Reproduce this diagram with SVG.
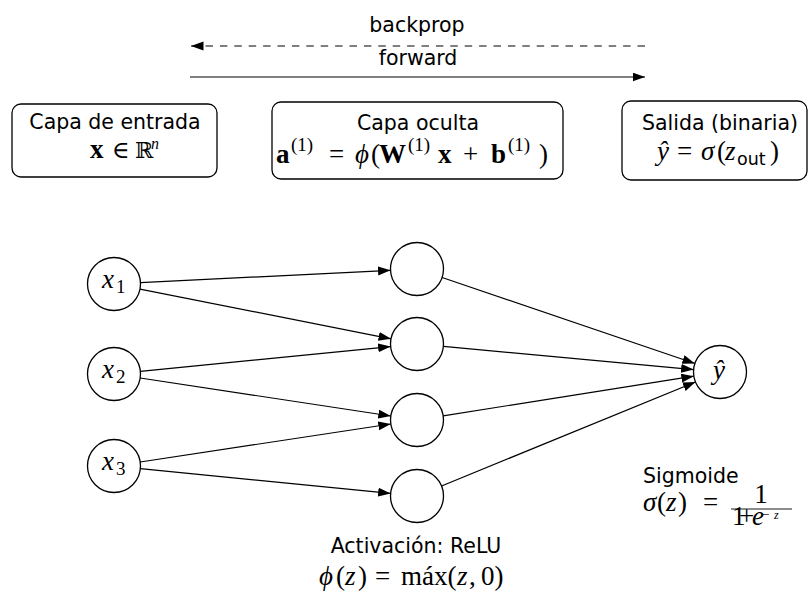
<svg xmlns="http://www.w3.org/2000/svg" width="810" height="592" viewBox="0 0 810 592">
  <style>
    .sans { font-family: "DejaVu Sans", "Liberation Sans", sans-serif; font-size: 20.5px; fill: #000; }
    .math { font-family: "Liberation Serif", "DejaVu Serif", serif; font-size: 27px; fill: #000; }
    .it { font-style: italic; }
    .bf { font-weight: bold; }
    .sup { font-size: 19px; }
    .box { fill: #fff; stroke: #000; stroke-width: 1.3; }
    .neuron { fill: #fff; stroke: #000; stroke-width: 1.3; }
    .edge { fill: none; stroke: #000; stroke-width: 1.2; marker-end: url(#tip); }
  </style>
  <defs>
    <marker id="tip" markerUnits="userSpaceOnUse" markerWidth="14" markerHeight="10" refX="12.5" refY="4.5" orient="auto">
      <path d="M0,0 L12.5,4.5 L0,9 Z" fill="#000" stroke="none"/>
    </marker>
  </defs>
  <rect width="810" height="592" fill="#fff"/>

  <!-- direction of the passes -->
  <g id="passes">
    <path class="edge" d="M645,46 L191,46" stroke-dasharray="7.5 6.9"/>
    <text class="sans" x="417" y="32" text-anchor="middle">backprop</text>
    <path class="edge" d="M190,77 L645,77"/>
    <text class="sans" x="418" y="65" text-anchor="middle">forward</text>
  </g>

  <!-- layer descriptions -->
  <g id="box-input">
    <rect class="box" x="12" y="104" width="205" height="73" rx="9"/>
    <text class="sans" x="115" y="129" text-anchor="middle">Capa de entrada</text>
    <text class="math" y="158"><tspan class="bf" x="90">x</tspan><tspan x="112" font-size="24">∈</tspan><tspan x="135" font-family="DejaVu Serif, serif" font-size="22">ℝ</tspan><tspan class="it" font-size="16" x="151" y="149">n</tspan></text>
  </g>
  <g id="box-hidden">
    <rect class="box" x="272" y="102" width="291" height="77" rx="9"/>
    <text class="sans" x="418" y="130" text-anchor="middle">Capa oculta</text>
    <text class="math" y="163"><tspan class="bf" x="276">a</tspan><tspan class="sup" x="291" y="151">(1)</tspan><tspan x="329" y="163">=</tspan><tspan class="it" x="355">ϕ</tspan><tspan x="371">(</tspan><tspan class="bf" x="379">W</tspan><tspan class="sup" x="408" y="151">(1)</tspan><tspan class="bf" x="438" y="163">x</tspan><tspan x="463">+</tspan><tspan class="bf" x="491">b</tspan><tspan class="sup" x="508" y="151">(1)</tspan><tspan x="539" y="163">)</tspan></text>
  </g>
  <g id="box-output">
    <rect class="box" x="622" y="101" width="185" height="79" rx="9"/>
    <text class="sans" x="720" y="130" text-anchor="middle">Salida (binaria)</text>
    <text class="math" y="160"><tspan class="it" x="657">ŷ</tspan><tspan x="677">=</tspan><tspan class="it" x="701">σ</tspan><tspan x="717">(</tspan><tspan class="it" x="725">z</tspan><tspan x="737" y="165" font-family="DejaVu Sans, sans-serif" font-size="17.5">out</tspan><tspan x="770" y="160">)</tspan></text>
  </g>

  <!-- connections -->
  <g id="connectors">
    <path class="edge" d="M140.47,282.69 L390.53,270.31"/>
    <path class="edge" d="M140.0,289.15 L391.0,338.85"/>
    <path class="edge" d="M140.37,371.39 L390.63,346.61"/>
    <path class="edge" d="M140.2,377.98 L390.8,416.02"/>
    <path class="edge" d="M140.2,462.02 L390.8,423.98"/>
    <path class="edge" d="M140.37,468.61 L390.63,493.39"/>
    <path class="edge" d="M442.09,277.53 L694.91,363.47"/>
    <path class="edge" d="M443.39,346.44 L693.61,369.56"/>
    <path class="edge" d="M443.17,415.85 L693.83,376.15"/>
    <path class="edge" d="M441.53,485.96 L695.47,382.04"/>
  </g>

  <!-- input neurons -->
  <g id="x1">
    <circle class="neuron" cx="114" cy="284" r="26.5"/>
    <text class="math" y="288"><tspan class="it" x="102">x</tspan><tspan class="sup" x="116" y="293">1</tspan></text>
  </g>
  <g id="x2">
    <circle class="neuron" cx="114" cy="374" r="26.5"/>
    <text class="math" y="378"><tspan class="it" x="102">x</tspan><tspan class="sup" x="116" y="383">2</tspan></text>
  </g>
  <g id="x3">
    <circle class="neuron" cx="114" cy="466" r="26.5"/>
    <text class="math" y="470"><tspan class="it" x="102">x</tspan><tspan class="sup" x="116" y="475">3</tspan></text>
  </g>

  <!-- hidden neurons -->
  <g id="h1"><circle class="neuron" cx="417" cy="269" r="26.5"/></g>
  <g id="h2"><circle class="neuron" cx="417" cy="344" r="26.5"/></g>
  <g id="h3"><circle class="neuron" cx="417" cy="420" r="26.5"/></g>
  <g id="h4"><circle class="neuron" cx="417" cy="496" r="26.5"/></g>

  <!-- output neuron -->
  <g id="y">
    <circle class="neuron" cx="720" cy="372" r="26.5"/>
    <text class="math it" x="719" y="379" text-anchor="middle">ŷ</text>
  </g>

  <!-- activation notes -->
  <g id="relu-note">
    <text class="sans" x="416" y="553" text-anchor="middle">Activación: ReLU</text>
    <text class="math" y="585"><tspan class="it" x="319">ϕ</tspan><tspan x="336">(</tspan><tspan class="it" x="345">z</tspan><tspan x="358">)</tspan><tspan x="375">=</tspan><tspan x="401">máx(</tspan><tspan class="it" x="457">z</tspan><tspan x="469">,</tspan><tspan x="481">0)</tspan></text>
  </g>
  <g id="sigmoid-note">
    <text class="sans" x="643" y="483">Sigmoide</text>
    <text class="math" y="511"><tspan class="it" x="643">σ</tspan><tspan x="657">(</tspan><tspan class="it" x="666">z</tspan><tspan x="678">)</tspan><tspan x="703">=</tspan></text>
    <text class="math" x="761" y="503" font-size="15" text-anchor="middle">1</text>
    <line x1="731" y1="509" x2="792" y2="509" stroke="#000" stroke-width="0.9"/>
    <text class="math" font-size="14" y="525"><tspan x="732">1</tspan><tspan x="739">+</tspan><tspan class="it" x="752">e</tspan><tspan font-size="13" x="762" y="519">−</tspan><tspan class="it" font-size="12" x="774" y="519">z</tspan></text>
  </g>
</svg>
